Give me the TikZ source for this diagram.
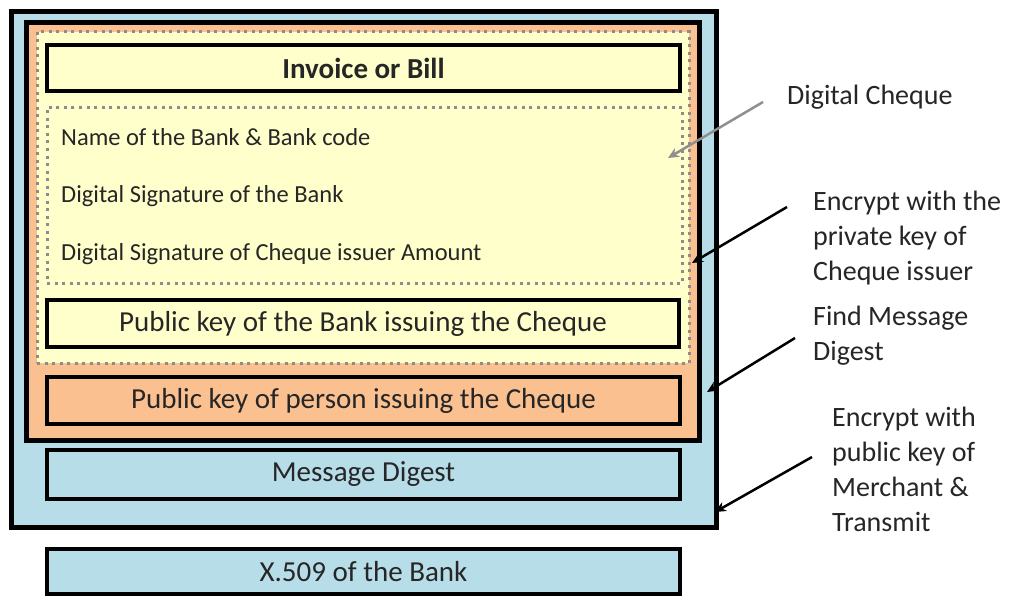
\documentclass[tikz,border=0pt]{standalone}
\usepackage{fontspec}
\setmainfont{Carlito}
\usetikzlibrary{arrows.meta}
\definecolor{aqua}{HTML}{B7DDE8}
\definecolor{peach}{HTML}{FAC090}
\definecolor{cream}{HTML}{FFFFCC}
\definecolor{dotgray}{HTML}{8C8C8C}
\definecolor{ink}{HTML}{262626}
\definecolor{pointer}{HTML}{8F8F8F}
\tikzset{
  frame/.style={draw=black, line width=5pt, inner sep=0pt},
  box/.style={draw=black, line width=4.5pt, inner sep=0pt, minimum width=633pt,
    font=\fontsize{29}{34}\selectfont, text=ink},
  dotbox/.style={draw=dotgray, line width=3pt, dash pattern=on 3pt off 4.5pt,
    line cap=butt, inner sep=0pt},
  item/.style={anchor=west, inner sep=0pt, font=\fontsize{24.5}{30}\selectfont, text=ink},
  note/.style={anchor=west, inner sep=0pt, align=left,
    font=\fontsize{28}{35}\selectfont, text=ink},
  callout/.style={line width=2.5pt, -{Stealth[length=11pt,width=10pt]}},
}
\begin{document}
\begin{tikzpicture}[x=1pt,y=-1pt]
\useasboundingbox (0,0) rectangle (1013,599);
\fill[white] (0,0) rectangle (1013,599);

% envelope and cheque containers
\node[frame, fill=aqua, minimum width=705pt, minimum height=515pt] (envelope) at (363.5,269.5) {};
\node[frame, fill=peach, minimum width=673pt, minimum height=417pt] (signed) at (362.5,231.5) {};
\node[dotbox, fill=cream, minimum width=652pt, minimum height=331pt] (cheque) at (363,197.5) {};
\node[dotbox, minimum width=635pt, minimum height=175pt] (details) at (364.5,195.5) {};

% boxes
\node[box, fill=cream, minimum height=46pt, font=\fontsize{29}{34}\selectfont\bfseries] (invoice) at (363.5,68) {Invoice or Bill};
\node[box, fill=cream, minimum width=632pt, minimum height=47pt] (bankkey) at (363,323.5) {Public key of the Bank issuing the Cheque};
\node[box, fill=peach, minimum height=47pt] (personkey) at (363.5,400.5) {Public key of person issuing the Cheque};
\node[box, fill=aqua, minimum height=49pt] (digest) at (363.5,474.5) {Message Digest};
\node[box, fill=aqua, minimum height=45pt] (x509) at (363.5,571.5) {X.509 of the Bank};

% cheque details
\node[item] (bankname) at (61,137) {Name of the Bank \& Bank code};
\node[item] (banksig) at (61,196) {Digital Signature of the Bank};
\node[item] (issuersig) at (61,254) {Digital Signature of Cheque issuer Amount};

% side notes
\node[note] (lblcheque) at (787,97) {Digital Cheque};
\node[note] (lblprivate) at (813,238) {Encrypt with the\\private key of\\Cheque issuer};
\node[note] (lbldigest) at (813,336) {Find Message\\Digest};
\node[note] (lblmerchant) at (832,469) {Encrypt with\\public key of\\Merchant \&\\Transmit};

% pointer ends
\coordinate (cA) at (763,102);
\coordinate (tA) at (668,158);
\coordinate (cB) at (787,207);
\coordinate (tB) at (692,263);
\coordinate (cC) at (795,338);
\coordinate (tC) at (707,392);
\coordinate (cD) at (812,457);
\coordinate (tD) at (715,512);

\draw[callout, draw=pointer, fill=pointer] (cA) -- (tA);
\draw[callout] (cB) -- (tB);
\draw[callout] (cC) -- (tC);
\draw[callout] (cD) -- (tD);
\end{tikzpicture}
\end{document}
